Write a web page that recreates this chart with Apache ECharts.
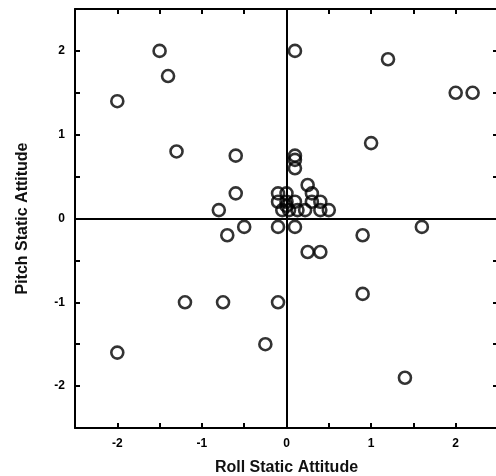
<!DOCTYPE html>
<html lang="en">
<head>
<meta charset="UTF-8">
<title>Static Attitude</title>
<style>
  html, body { margin: 0; padding: 0; background: #fff; }
  #main { width: 496px; height: 476px; }
</style>
</head>
<body>
<div id="main"></div>
<script src="https://cdn.jsdelivr.net/npm/echarts@6/dist/echarts.min.js"></script>
<script>
  // roll (x) and pitch (y) static attitude
  var rollValues = [-1.5, -1.4, -2.0, -1.3, -0.6, -0.6, -0.8, 0.1, 0.1, 0.1, 0.1, 1.2, 2.0, 2.2, 1.0,
    0.25, 0.3, 0.3, 0.4, -0.1, 0.0, -0.1, 0.0, 0.1, -0.05, 0.03, 0.13, 0.22, 0.4, 0.5, 0.0,
    -0.5, -0.7, -0.1, 0.1, 0.25, 0.4, 0.9, 1.6, -1.2, -0.75, -0.1, -0.25, -2.0, 0.9, 1.4]
  var pitchValues = [2.0, 1.7, 1.4, 0.8, 0.75, 0.3, 0.1, 2.0, 0.75, 0.7, 0.6, 1.9, 1.5, 1.5, 0.9,
    0.4, 0.3, 0.2, 0.2, 0.3, 0.3, 0.2, 0.2, 0.2, 0.1, 0.1, 0.1, 0.1, 0.1, 0.1, 0.15,
    -0.1, -0.2, -0.1, -0.1, -0.4, -0.4, -0.2, -0.1, -1.0, -1.0, -1.0, -1.5, -1.6, -0.9, -1.9]
  var tickLabels = [-2, -1, 0, 1, 2]

  var points = rollValues.map(function (r, i) { return [r, pitchValues[i]] })

  var font = 'Liberation Sans, Arial, sans-serif'
  function labelFmt(v) {
    return tickLabels.indexOf(Math.round(v * 100) / 100) >= 0 ? String(v) : ''
  }
  function makeAxis(pos, showLabel, name) {
    return {
      type: 'value',
      position: pos,
      min: -2.5,
      max: 2.5,
      interval: 0.5,
      name: name || '',
      nameLocation: 'middle',
      nameGap: pos === 'bottom' ? 32 : 44,
      nameTextStyle: { color: '#111', fontFamily: font, fontSize: 16, fontWeight: 'bold' },
      axisLine: { show: true, onZero: false, lineStyle: { color: '#000', width: 2 } },
      axisTick: { show: true, inside: true, length: 5, lineStyle: { color: '#000', width: 2 } },
      axisLabel: {
        show: showLabel,
        margin: 10,
        color: '#000',
        fontFamily: font,
        fontSize: 12,
        fontWeight: 'bold',
        formatter: labelFmt
      },
      splitLine: { show: false }
    }
  }

  var myChart = echarts.init(document.getElementById('main'))
  var option = {
    animation: false,
    grid: { left: 75, top: 9, width: 423, height: 419, containLabel: false, outerBoundsMode: 'none' },
    xAxis: [makeAxis('bottom', true, 'Roll Static Attitude'), makeAxis('top', false)],
    yAxis: [makeAxis('left', true, 'Pitch Static Attitude'), makeAxis('right', false)],
    series: [
      {
        type: 'scatter',
        data: points,
        symbol: 'circle',
        symbolSize: 12,
        itemStyle: { color: 'rgba(0,0,0,0)', borderColor: '#000', borderWidth: 2.6 },
        markLine: {
          silent: true,
          symbol: 'none',
          label: { show: false },
          lineStyle: { color: '#000', width: 2, type: 'solid' },
          data: [{ xAxis: 0 }, { yAxis: 0 }]
        }
      }
    ]
  }
  myChart.setOption(option)
</script>
</body>
</html>
